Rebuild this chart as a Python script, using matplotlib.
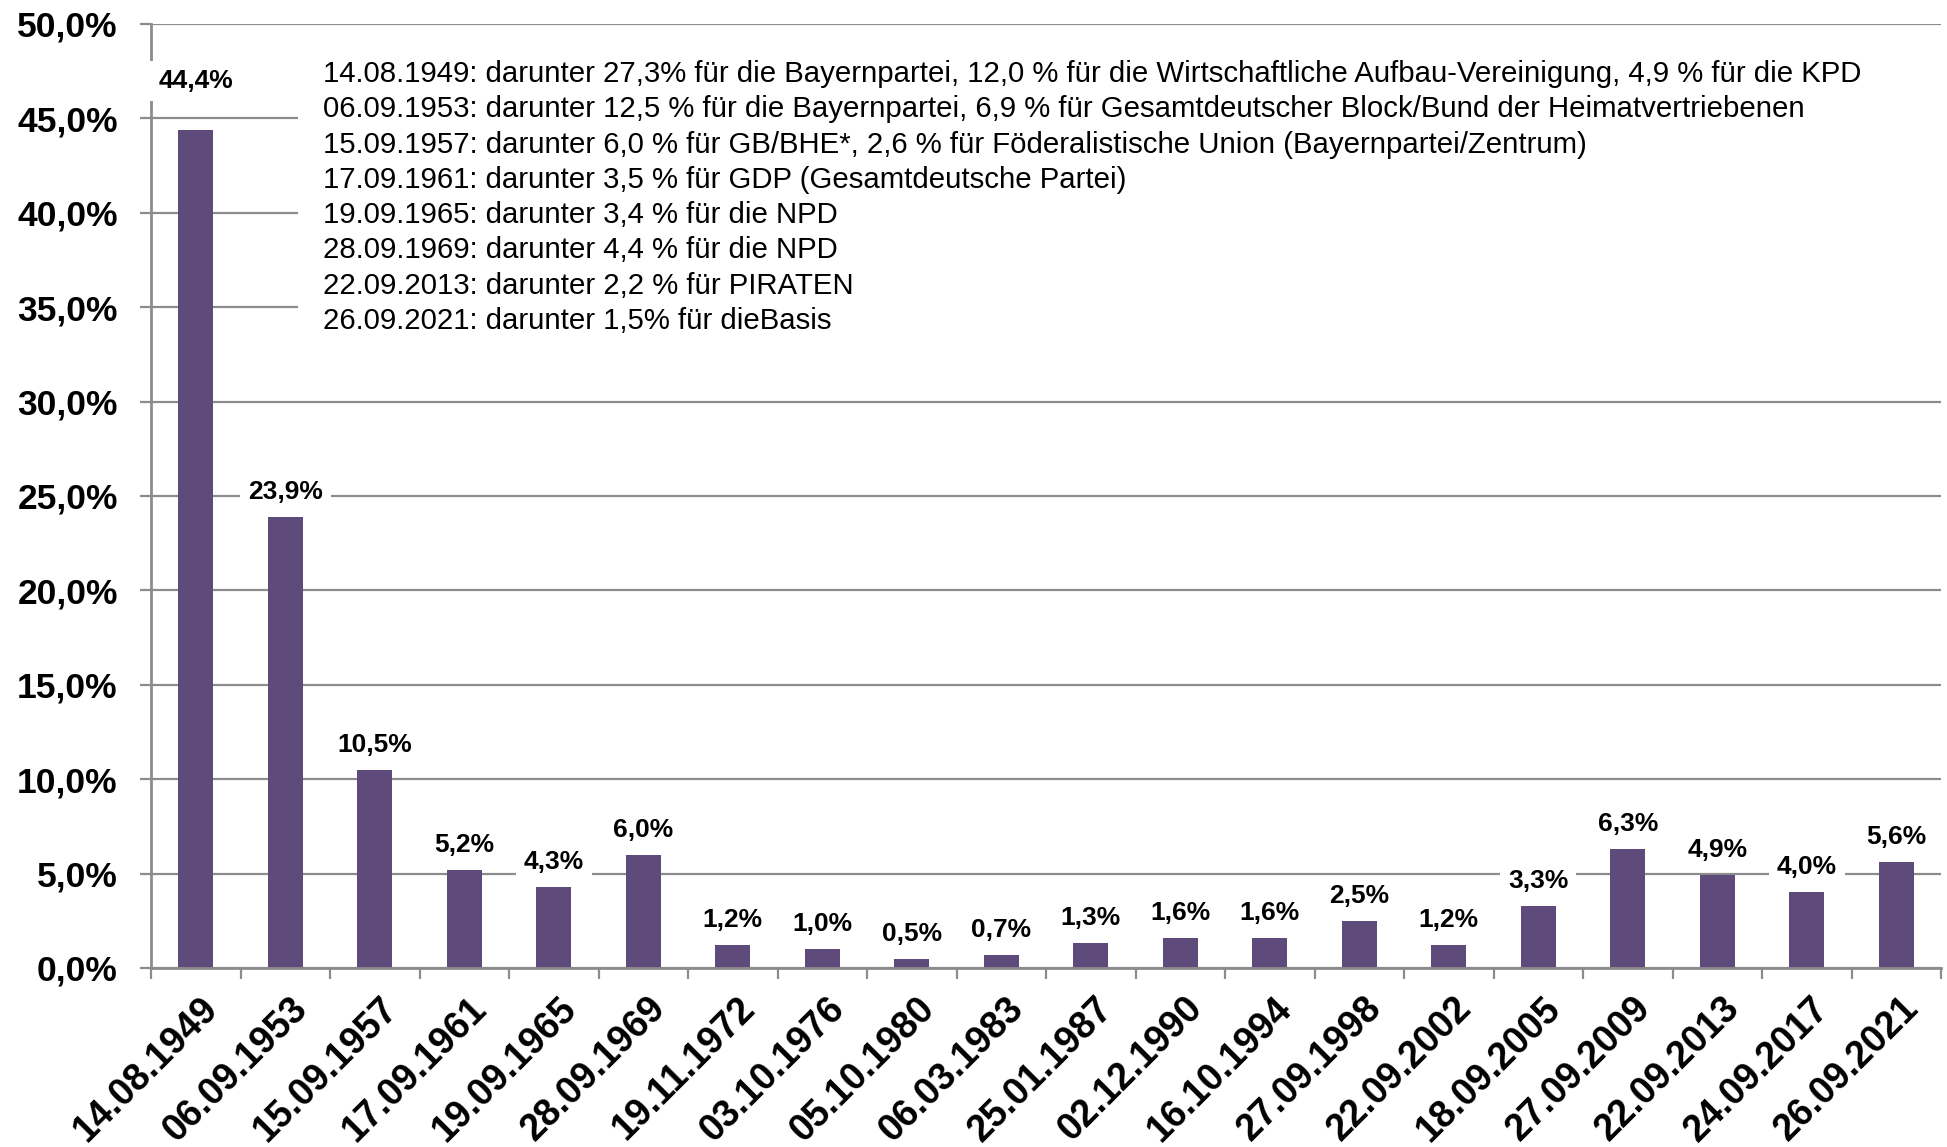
import numpy as np
import matplotlib
matplotlib.use("Agg")
import matplotlib.pyplot as plt
from matplotlib.patches import Rectangle
from matplotlib.ticker import FuncFormatter, FixedLocator
from matplotlib.transforms import ScaledTranslation

# Wahltermine und Ergebnisse "Sonstige"
dates = ["14.08.1949", "06.09.1953", "15.09.1957", "17.09.1961", "19.09.1965",
         "28.09.1969", "19.11.1972", "03.10.1976", "05.10.1980", "06.03.1983",
         "25.01.1987", "02.12.1990", "16.10.1994", "27.09.1998", "22.09.2002",
         "18.09.2005", "27.09.2009", "22.09.2013", "24.09.2017", "26.09.2021"]
values = [44.4, 23.9, 10.5, 5.2, 4.3, 6.0, 1.2, 1.0, 0.5, 0.7,
          1.3, 1.6, 1.6, 2.5, 1.2, 3.3, 6.3, 4.9, 4.0, 5.6]

notes = [
    "14.08.1949: darunter 27,3% für die Bayernpartei, 12,0 % für die Wirtschaftliche Aufbau-Vereinigung, 4,9 % für die KPD",
    "06.09.1953: darunter 12,5 % für die Bayernpartei, 6,9 % für Gesamtdeutscher Block/Bund der Heimatvertriebenen",
    "15.09.1957: darunter 6,0 % für GB/BHE*, 2,6 % für Föderalistische Union (Bayernpartei/Zentrum)",
    "17.09.1961: darunter 3,5 % für GDP (Gesamtdeutsche Partei)",
    "19.09.1965: darunter 3,4 % für die NPD",
    "28.09.1969: darunter 4,4 % für die NPD",
    "22.09.2013: darunter 2,2 % für PIRATEN",
    "26.09.2021: darunter 1,5% für dieBasis",
]

BAR_COLOR = "#5f4b7b"
GRID_COLOR = "#8c8c8c"

plt.rcParams["font.family"] = ["Liberation Sans", "DejaVu Sans"]

# plot area in pixels
W, H = 1947, 1147
L, R, T, B = 151, 1941, 24, 968

fig = plt.figure(figsize=(W / 100, H / 100), dpi=100)
ax = fig.add_axes([L / W, 1 - B / H, (R - L) / W, (B - T) / H])

x = np.arange(len(dates))
ax.bar(x, values, width=0.39, color=BAR_COLOR, zorder=3)

ax.set_xlim(-0.5, len(dates) - 0.5)
ax.set_ylim(0, 50)

# y axis
ax.set_yticks(np.arange(0, 51, 5))
ax.yaxis.set_major_formatter(FuncFormatter(lambda v, p: f"{v:.1f}%".replace(".", ",")))
ax.grid(axis="y", color=GRID_COLOR, linewidth=1.6, zorder=0)
ax.set_axisbelow(True)
ax.tick_params(axis="y", length=8, width=1.6, color=GRID_COLOR, pad=16, labelsize=25.5)
for lab in ax.get_yticklabels():
    lab.set_fontweight("bold")

# x axis: labels at bar centres, tick marks between the bars
ax.set_xticks(x)
ax.set_xticklabels(dates, rotation=45, ha="right", va="top", rotation_mode="anchor",
                   fontsize=27, fontweight="bold")
ax.xaxis.set_minor_locator(FixedLocator(np.arange(-0.5, len(dates), 1.0)))
ax.tick_params(axis="x", which="major", length=0, pad=16)
ax.tick_params(axis="x", which="minor", length=8, width=1.6, color=GRID_COLOR)
shift = ScaledTranslation(3 / 72, 0, fig.dpi_scale_trans)
for lab in ax.get_xticklabels():
    lab.set_transform(lab.get_transform() + shift)

for side in ["top", "right"]:
    ax.spines[side].set_visible(False)
for side in ["left", "bottom"]:
    ax.spines[side].set_color(GRID_COLOR)
    ax.spines[side].set_linewidth(2)
    ax.spines[side].set_zorder(4)

# bar value labels
for i, v in enumerate(values):
    off = 35 if i == 0 else 18
    ax.annotate(f"{v:.1f}%".replace(".", ","), (i, v), xytext=(0, off),
                textcoords="offset points", ha="center", va="center",
                fontsize=19, fontweight="bold", zorder=5,
                bbox=dict(boxstyle="square,pad=0.3", facecolor="white", edgecolor="none"))

# white box behind the notes hides the grid lines
note_box = Rectangle(((298 - L) / (R - L), (B - 340) / (B - T)),
                     1.0, (340 - 45) / (B - T), transform=ax.transAxes,
                     facecolor="white", edgecolor="none", zorder=1, clip_on=False)
ax.add_patch(note_box)
ax.text((323 - L) / (R - L), (B - 60) / (B - T), "\n".join(notes),
        transform=ax.transAxes, ha="left", va="top", fontsize=21.2,
        linespacing=1.33, zorder=6)

fig.savefig("out.png", dpi=100)
